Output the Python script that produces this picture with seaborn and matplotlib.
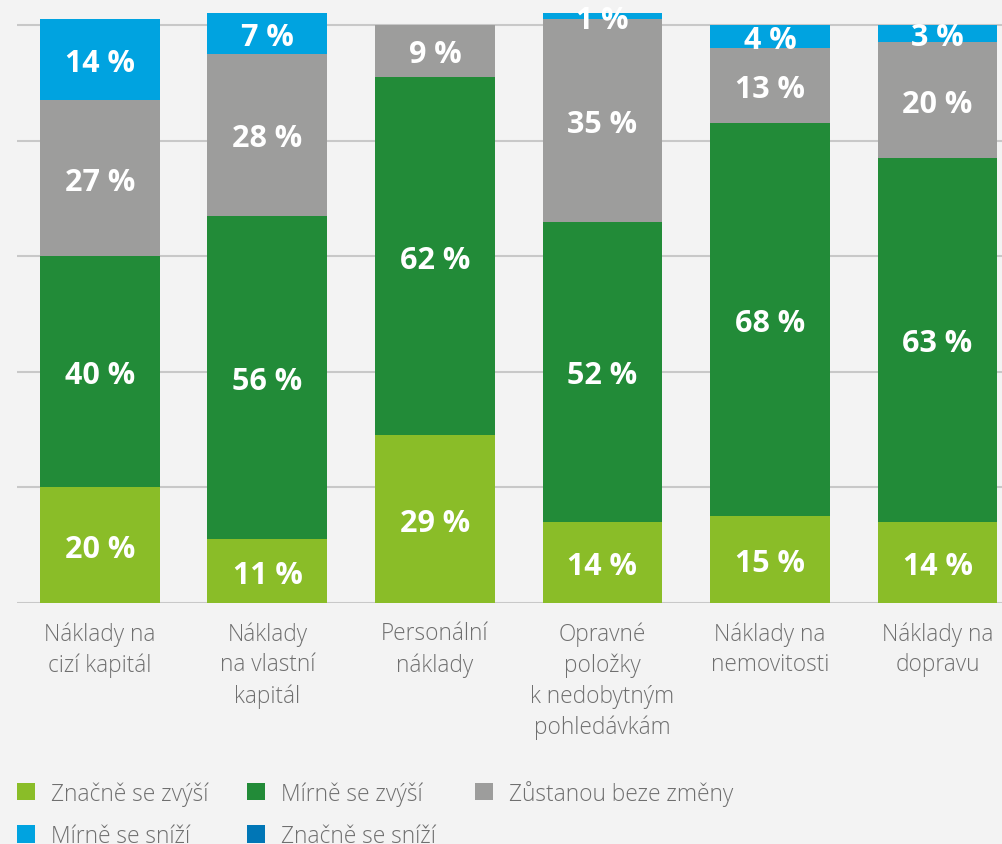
import matplotlib
matplotlib.use("Agg")
import matplotlib.pyplot as plt
import seaborn as sns
import numpy as np
from matplotlib.patches import Patch

categories = ["Náklady na\ncizí kapitál", "Náklady\nna vlastní\nkapitál", "Personální\nnáklady",
              "Opravné\npoložky\nk nedobytným\npohledávkám", "Náklady na\nnemovitosti", "Náklady na\ndopravu"]
series_names = ["Značně se zvýší", "Mírně se zvýší", "Zůstanou beze změny", "Mírně se sníží", "Značně se sníží"]
znacne_zvysi = [20, 11, 29, 14, 15, 14]
mirne_zvysi = [40, 56, 62, 52, 68, 63]
beze_zmeny = [27, 28, 9, 35, 13, 20]
mirne_snizi = [14, 7, 0, 1, 4, 3]
znacne_snizi = [0, 0, 0, 0, 0, 0]
colors = ["#8abd28", "#228b38", "#9d9d9c", "#00a3e0", "#0076b6"]

sns.set_theme(style="white")
plt.rcParams["font.family"] = ["Open Sans", "DejaVu Sans"]

series = [znacne_zvysi, mirne_zvysi, beze_zmeny, mirne_snizi, znacne_snizi]
bg = "#f3f3f3"
fig = plt.figure(figsize=(10.02, 8.45), dpi=100, facecolor=bg)
ax = fig.add_axes([17 / 1002, (845 - 604) / 845, 985 / 1002, 604 / 845])
ax.set_facecolor(bg)

keys = [str(i) for i in range(len(categories))]
cum = np.cumsum(np.array(series, dtype=float), axis=0)
for i in range(len(series) - 1, -1, -1):
    sns.barplot(x=keys, y=cum[i], color=colors[i], width=0.716, ax=ax,
                saturation=1, edgecolor="none", linewidth=0, zorder=3)

for i, vals in enumerate(series):
    bottoms = cum[i] - np.array(vals)
    for j, v in enumerate(vals):
        if v > 0:
            ax.text(j, bottoms[j] + v / 2 - 0.6, f"{v} %", ha="center", va="center",
                    color="white", fontsize=22, fontweight="bold", zorder=5)

ax.set_xlim(-0.495, 5.385)
ax.set_ylim(0, 104.5)
ax.set_yticks([0, 20, 40, 60, 80, 100])
ax.yaxis.grid(True, color="#c8c8c8", linewidth=1.5, zorder=0)
ax.set_axisbelow(True)
ax.tick_params(axis="y", left=False, labelleft=False)
ax.set_xticks(range(len(categories)))
ax.set_xticklabels(categories, fontsize=16.3, color="#6f6f6f", linespacing=1.38, fontweight="light")
ax.tick_params(axis="x", bottom=False, pad=7)
ax.set_xlabel("")
ax.set_ylabel("")
for s in ax.spines.values():
    s.set_visible(False)

handles = [Patch(facecolor=c, edgecolor="none") for c in colors]
order = [0, 3, 1, 4, 2]
leg = fig.legend([handles[k] for k in order], [series_names[k] for k in order],
                 ncol=3, loc="upper left", bbox_to_anchor=(17 / 1002, 0.076),
                 frameon=False, fontsize=16.4, handlelength=0.79, handleheight=0.79,
                 handletextpad=0.7, columnspacing=1.7, labelspacing=0.8, borderpad=0,
                 borderaxespad=0)
for t in leg.get_texts():
    t.set_color("#6f6f6f")
    t.set_fontweight("light")

fig.savefig("out.png", dpi=100, facecolor=bg)
